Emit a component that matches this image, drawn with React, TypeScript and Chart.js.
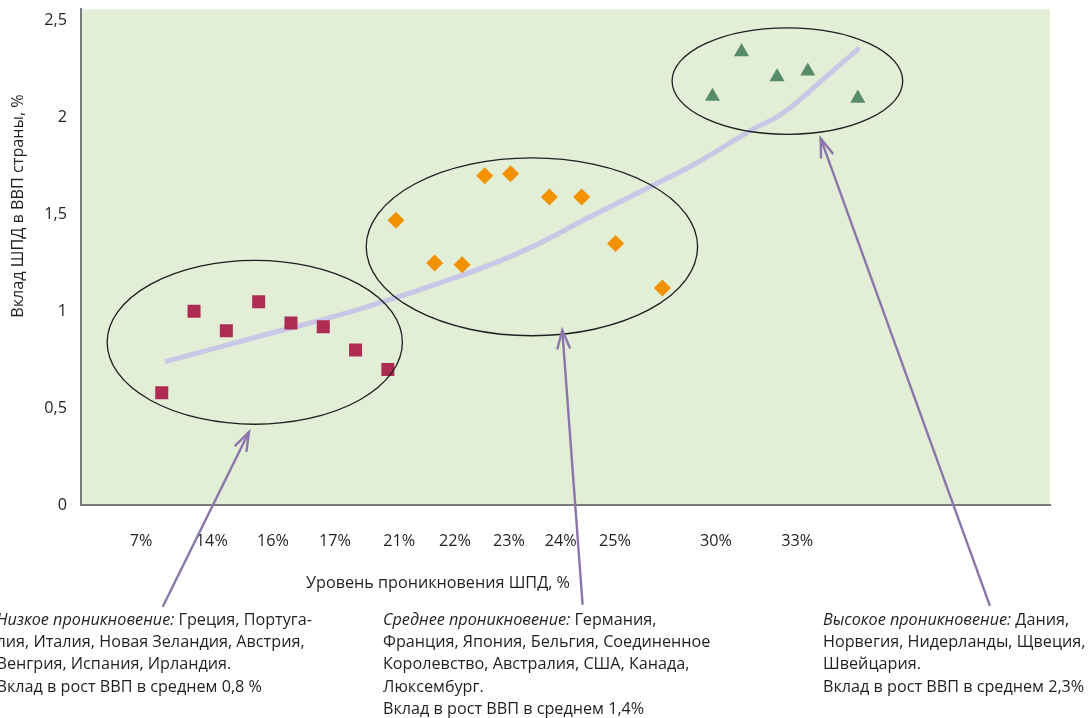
import { useEffect, useRef } from "react";
import { Chart, registerables } from "chart.js";

Chart.register(...registerables);

// Low penetration group (squares)
const lowX = [2.5, 3.5, 4.5, 5.5, 6.5, 7.5, 8.5, 9.5];
const lowY = [0.58, 1.0, 0.9, 1.05, 0.94, 0.92, 0.8, 0.7];
// Medium penetration group (diamonds)
const midX = [9.75, 10.95, 11.8, 12.5, 13.3, 14.5, 15.5, 16.55, 18.0];
const midY = [1.47, 1.25, 1.24, 1.7, 1.71, 1.59, 1.59, 1.35, 1.12];
// High penetration group (triangles)
const highX = [19.55, 20.45, 21.55, 22.5, 24.05];
const highY = [2.11, 2.34, 2.21, 2.24, 2.1];
// Trend curve
const trendX = [2.6, 5.5, 8.6, 11.7, 13.8, 15.9, 17.7, 19.1, 20.8, 21.7, 23.2, 24.1];
const trendY = [0.74, 0.87, 1.01, 1.18, 1.32, 1.5, 1.65, 1.77, 1.94, 2.02, 2.23, 2.36];

const xTickPos = [1.86, 4.05, 5.94, 7.86, 9.85, 11.58, 13.25, 14.85, 16.53, 19.66, 22.17];
const xTickLabels = ["7%", "14%", "16%", "17%", "21%", "22%", "23%", "24%", "25%", "30%", "33%"];
const yTicks = [0, 0.5, 1, 1.5, 2, 2.5];

const xTitle = "Уровень проникновения ШПД, %";
const yTitle = "Вклад ШПД в ВВП страны, %";

const ellipses = [
  { cx: 5.38, cy: 0.84, rx: 4.57, ry: 0.423 },
  { cx: 13.96, cy: 1.333, rx: 5.13, ry: 0.459 },
  { cx: 21.87, cy: 2.189, rx: 3.57, ry: 0.275 },
];

const arrows = [
  { x1: 2.53, y1: -0.525, x2: 5.2, y2: 0.377 },
  { x1: 15.53, y1: -0.516, x2: 14.9, y2: 0.903 },
  { x1: 28.14, y1: -0.521, x2: 22.9, y2: 1.893 },
];

type Line = { it?: string; tx: string };

const lowNote: Line[] = [
  { it: "Низкое проникновение:", tx: " Греция, Португа-" },
  { tx: "лия, Италия, Новая Зеландия, Австрия," },
  { tx: "Венгрия, Испания, Ирландия." },
  { tx: "Вклад в рост ВВП в среднем 0,8 %" },
];
const midNote: Line[] = [
  { it: "Среднее проникновение:", tx: " Германия," },
  { tx: "Франция, Япония, Бельгия, Соединенное" },
  { tx: "Королевство, Австралия, США, Канада," },
  { tx: "Люксембург." },
  { tx: "Вклад в рост ВВП в среднем 1,4%" },
];
const highNote: Line[] = [
  { it: "Высокое проникновение:", tx: " Дания," },
  { tx: "Норвегия, Нидерланды, Щвеция," },
  { tx: "Швейцария." },
  { tx: "Вклад в рост ВВП в среднем 2,3%" },
];

const FONT = '"Open Sans", sans-serif';
const SIZE = 16.2;
const TEXT = "#231f20";

const lineWidthOf = (ctx: CanvasRenderingContext2D, l: Line) => {
  let w = 0;
  if (l.it) {
    ctx.font = `italic ${SIZE}px ${FONT}`;
    w += ctx.measureText(l.it).width;
  }
  ctx.font = `${SIZE}px ${FONT}`;
  return w + ctx.measureText(l.tx).width;
};

const drawNote = (ctx: CanvasRenderingContext2D, lines: Line[], x: number, y: number) => {
  ctx.fillStyle = TEXT;
  ctx.textBaseline = "middle";
  ctx.textAlign = "left";
  lines.forEach((l, i) => {
    let cx = x;
    const cy = y + i * 22.3;
    if (l.it) {
      ctx.font = `italic ${SIZE}px ${FONT}`;
      ctx.fillText(l.it, cx, cy);
      cx += ctx.measureText(l.it).width;
    }
    ctx.font = `${SIZE}px ${FONT}`;
    ctx.fillText(l.tx, cx, cy);
  });
};

const decor = {
  id: "decor",
  beforeDraw(chart: any) {
    const { ctx, chartArea: a } = chart;
    ctx.save();
    ctx.fillStyle = "#e2eed6";
    ctx.fillRect(a.left, a.top, a.right - a.left, a.bottom - a.top);
    ctx.restore();
  },
  afterDatasetsDraw(chart: any) {
    const { ctx } = chart;
    const xs = chart.scales.x;
    const ys = chart.scales.y;
    ctx.save();
    ctx.strokeStyle = "#1e1e1e";
    ctx.lineWidth = 1.3;
    ellipses.forEach((e) => {
      const cx = xs.getPixelForValue(e.cx);
      const cy = ys.getPixelForValue(e.cy);
      const rx = Math.abs(xs.getPixelForValue(e.cx + e.rx) - cx);
      const ry = Math.abs(ys.getPixelForValue(e.cy + e.ry) - cy);
      ctx.beginPath();
      ctx.ellipse(cx, cy, rx, ry, 0, 0, Math.PI * 2);
      ctx.stroke();
    });
    ctx.restore();
  },
  afterDraw(chart: any) {
    const { ctx, chartArea: a } = chart;
    const xs = chart.scales.x;
    const ys = chart.scales.y;
    ctx.save();
    // arrows
    ctx.strokeStyle = "#8b76aa";
    ctx.lineWidth = 2.4;
    ctx.lineJoin = "miter";
    arrows.forEach((r) => {
      const x1 = xs.getPixelForValue(r.x1);
      const y1 = ys.getPixelForValue(r.y1);
      const x2 = xs.getPixelForValue(r.x2);
      const y2 = ys.getPixelForValue(r.y2);
      const ang = Math.atan2(y2 - y1, x2 - x1);
      const head = 20;
      const spread = 0.33;
      ctx.beginPath();
      ctx.moveTo(x1, y1);
      ctx.lineTo(x2, y2);
      ctx.stroke();
      ctx.beginPath();
      ctx.moveTo(x2 - head * Math.cos(ang - spread), y2 - head * Math.sin(ang - spread));
      ctx.lineTo(x2, y2);
      ctx.lineTo(x2 - head * Math.cos(ang + spread), y2 - head * Math.sin(ang + spread));
      ctx.stroke();
    });
    // axis titles
    ctx.fillStyle = TEXT;
    ctx.font = `${SIZE}px ${FONT}`;
    ctx.textAlign = "center";
    ctx.textBaseline = "middle";
    ctx.fillText(xTitle, a.left + 357, a.bottom + 78);
    ctx.save();
    ctx.translate(18, 206);
    ctx.rotate(-Math.PI / 2);
    ctx.fillText(yTitle, 0, 0);
    ctx.restore();
    // notes
    const lowW = lineWidthOf(ctx, lowNote[0]);
    drawNote(ctx, lowNote, 312 - lowW, 620);
    drawNote(ctx, midNote, 383, 620);
    drawNote(ctx, highNote, 823, 620);
    ctx.restore();
  },
};

const pts = (xs: number[], ys: number[]) => xs.map((x, i) => ({ x, y: ys[i] }));

export default function App() {
  const canvasRef = useRef<HTMLCanvasElement>(null);

  useEffect(() => {
    if (!canvasRef.current) return;
    const chart = new Chart(canvasRef.current, {
      type: "scatter",
      data: {
        datasets: [
          {
            label: "trend",
            data: pts(trendX, trendY),
            showLine: true,
            borderColor: "#cac6e6",
            borderWidth: 5,
            pointRadius: 0,
            tension: 0.4,
            order: 5,
          },
          {
            label: "low",
            data: pts(lowX, lowY),
            pointStyle: "rect",
            pointRadius: 9.2,
            backgroundColor: "#ae2c54",
            borderWidth: 0,
            order: 1,
          },
          {
            label: "mid",
            data: pts(midX, midY),
            pointStyle: "rectRot",
            pointRadius: 8.5,
            backgroundColor: "#f39200",
            borderWidth: 0,
            order: 1,
          },
          {
            label: "high",
            data: pts(highX, highY),
            pointStyle: "triangle",
            pointRadius: 8.7,
            backgroundColor: "#578b69",
            borderWidth: 0,
            order: 1,
          },
        ],
      },
      options: {
        responsive: true,
        maintainAspectRatio: false,
        animation: false,
        events: [],
        layout: { padding: { top: 9, right: 41, left: 0, bottom: 0 } },
        plugins: {
          legend: { display: false },
          tooltip: { enabled: false },
        },
        scales: {
          x: {
            type: "linear",
            min: 0,
            max: 30,
            grid: { display: false, drawTicks: false },
            border: { display: true, color: "#7a7a7a", width: 2 },
            afterBuildTicks: (s: any) => {
              s.ticks = xTickPos.map((v) => ({ value: v }));
            },
            afterFit: (s: any) => {
              s.height = 213;
              s.paddingLeft = 0;
              s.paddingRight = 0;
            },
            ticks: {
              autoSkip: false,
              maxRotation: 0,
              padding: 27,
              color: TEXT,
              font: { family: FONT, size: SIZE },
              callback: (_v: any, i: number) => xTickLabels[i],
            },
          },
          y: {
            type: "linear",
            min: 0,
            max: 2.56,
            grid: { display: false, drawTicks: false },
            border: { display: true, color: "#7a7a7a", width: 2 },
            afterBuildTicks: (s: any) => {
              s.ticks = yTicks.map((v) => ({ value: v }));
            },
            afterFit: (s: any) => {
              s.width = 81;
              s.paddingTop = 0;
              s.paddingBottom = 0;
            },
            ticks: {
              padding: 14,
              color: TEXT,
              font: { family: FONT, size: SIZE },
              callback: (v: any) => String(v).replace(".", ","),
            },
          },
        },
      },
      plugins: [decor],
    });
    return () => chart.destroy();
  }, []);

  return (
    <div style={{ position: "absolute", left: 0, top: 0, width: 1091, height: 718, background: "#fff" }}>
      <canvas ref={canvasRef} />
    </div>
  );
}
